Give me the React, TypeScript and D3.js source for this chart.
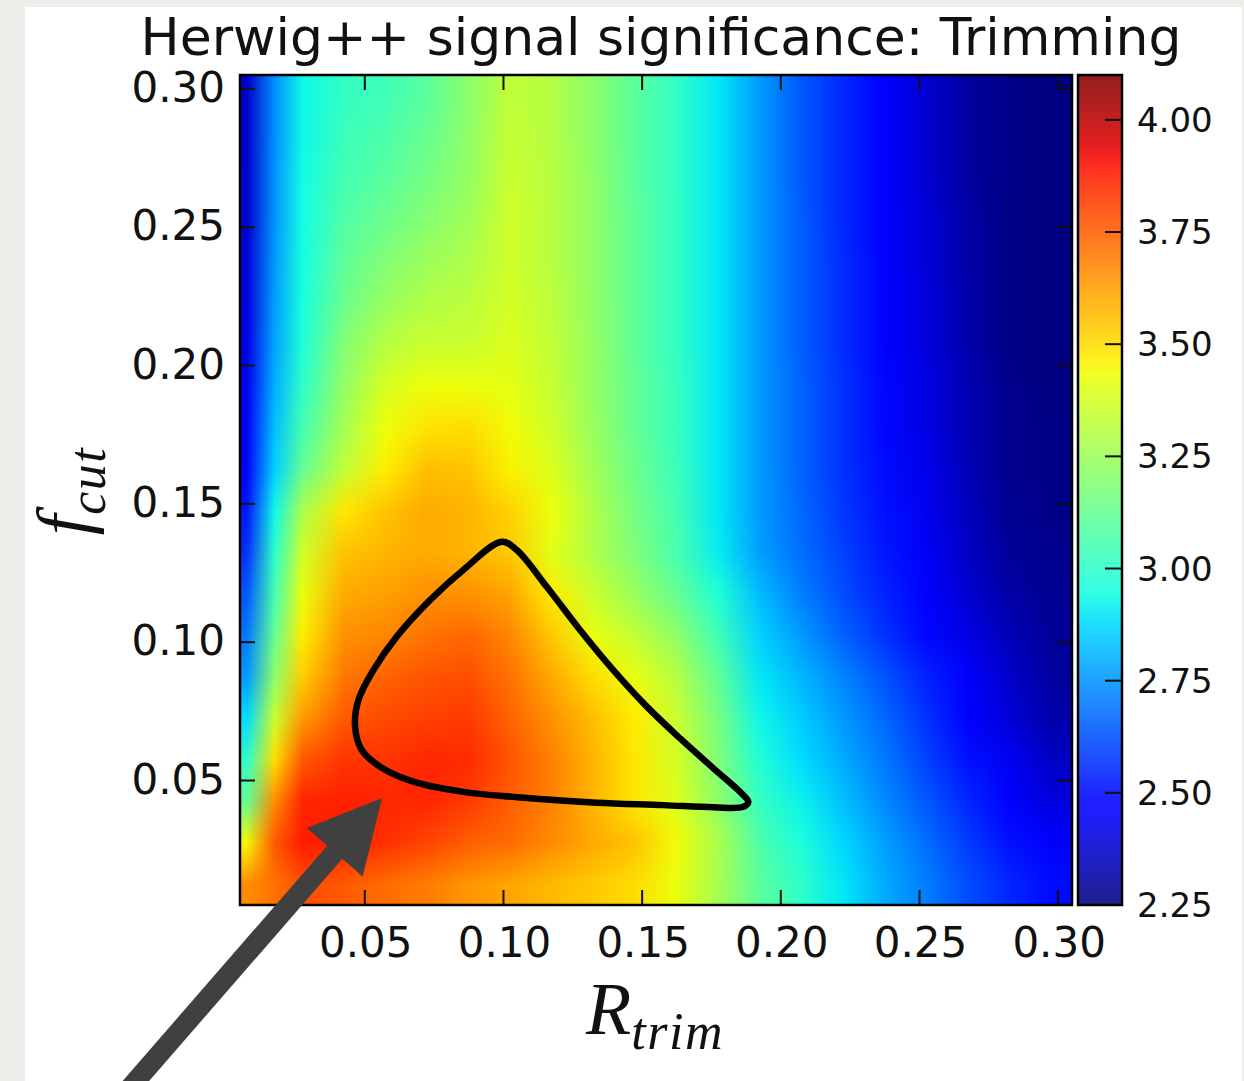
import React, { useEffect, useState } from 'react';
import * as d3 from 'd3';

// ---------------- data ----------------
const TITLE = 'Herwig++ signal significance: Trimming';
const R_TRIM_TICKS = [0.05, 0.1, 0.15, 0.2, 0.25, 0.3];
const F_CUT_TICKS = [0.05, 0.1, 0.15, 0.2, 0.25, 0.3];
const CBAR_TICKS = [2.25, 2.5, 2.75, 3.0, 3.25, 3.5, 3.75, 4.0];
const X_EXTENT = [0.005, 0.305];
const Y_EXTENT = [0.005, 0.305];
const V_MIN = 2.25;
const V_MAX = 4.1;

// grid cell centres (R_trim columns)
const R_TRIM_CENTERS = [0.0075, 0.0175, 0.0275, 0.0425, 0.0575, 0.0725, 0.0875, 0.1025, 0.1175, 0.1325, 0.1475,
  0.1625, 0.1775, 0.1925, 0.2075, 0.2225, 0.2375, 0.2525, 0.2675, 0.2825, 0.2975];
// rows listed from top (largest f_cut) to bottom
const F_CUT_CENTERS = [0.2975, 0.2825, 0.2675, 0.2525, 0.2375, 0.2225, 0.2075, 0.1925, 0.1775, 0.1625,
  0.1475, 0.1325, 0.1175, 0.1025, 0.0875, 0.0725, 0.0575, 0.0425, 0.0275, 0.0125];

// signal significance, one row per f_cut (top to bottom), one value per R_trim
const SIGNIFICANCE = [
  [2.37, 2.74, 2.93, 3.01, 3.04, 3.10, 3.21, 3.33, 3.30, 3.21, 3.10, 3.01, 2.90, 2.76, 2.64, 2.55, 2.46, 2.38, 2.30, 2.26, 2.25],
  [2.37, 2.74, 2.93, 3.03, 3.07, 3.13, 3.22, 3.34, 3.30, 3.21, 3.10, 3.01, 2.90, 2.76, 2.64, 2.55, 2.46, 2.38, 2.30, 2.26, 2.25],
  [2.38, 2.75, 2.94, 3.05, 3.10, 3.16, 3.23, 3.35, 3.31, 3.22, 3.10, 3.01, 2.90, 2.76, 2.64, 2.55, 2.47, 2.38, 2.30, 2.26, 2.25],
  [2.38, 2.75, 2.94, 3.08, 3.14, 3.20, 3.26, 3.36, 3.31, 3.22, 3.11, 3.01, 2.90, 2.76, 2.65, 2.55, 2.47, 2.39, 2.31, 2.26, 2.25],
  [2.39, 2.76, 2.95, 3.11, 3.19, 3.25, 3.29, 3.36, 3.31, 3.22, 3.11, 3.01, 2.90, 2.76, 2.65, 2.56, 2.48, 2.39, 2.31, 2.26, 2.25],
  [2.40, 2.77, 2.95, 3.14, 3.24, 3.30, 3.32, 3.37, 3.32, 3.22, 3.11, 3.01, 2.90, 2.76, 2.65, 2.56, 2.48, 2.40, 2.32, 2.26, 2.25],
  [2.41, 2.78, 2.97, 3.19, 3.31, 3.35, 3.35, 3.39, 3.33, 3.23, 3.11, 3.01, 2.90, 2.76, 2.65, 2.56, 2.48, 2.40, 2.32, 2.26, 2.25],
  [2.43, 2.80, 3.00, 3.23, 3.38, 3.43, 3.43, 3.41, 3.34, 3.23, 3.12, 3.02, 2.90, 2.76, 2.66, 2.57, 2.49, 2.41, 2.33, 2.27, 2.25],
  [2.45, 2.83, 3.05, 3.27, 3.43, 3.49, 3.50, 3.44, 3.36, 3.24, 3.12, 3.02, 2.90, 2.76, 2.66, 2.57, 2.49, 2.41, 2.33, 2.27, 2.26],
  [2.47, 2.86, 3.12, 3.33, 3.47, 3.56, 3.55, 3.46, 3.39, 3.26, 3.14, 3.03, 2.90, 2.76, 2.66, 2.57, 2.50, 2.42, 2.34, 2.27, 2.26],
  [2.52, 2.93, 3.28, 3.48, 3.55, 3.60, 3.58, 3.52, 3.43, 3.29, 3.16, 3.05, 2.90, 2.76, 2.67, 2.58, 2.51, 2.43, 2.35, 2.28, 2.26],
  [2.57, 3.00, 3.36, 3.55, 3.58, 3.60, 3.58, 3.54, 3.40, 3.29, 3.18, 3.06, 2.91, 2.77, 2.68, 2.60, 2.52, 2.44, 2.36, 2.29, 2.27],
  [2.64, 3.05, 3.42, 3.60, 3.62, 3.65, 3.65, 3.61, 3.47, 3.35, 3.24, 3.12, 2.97, 2.82, 2.71, 2.62, 2.54, 2.46, 2.38, 2.31, 2.28],
  [2.70, 3.13, 3.47, 3.65, 3.67, 3.71, 3.73, 3.67, 3.54, 3.42, 3.33, 3.22, 3.04, 2.86, 2.76, 2.66, 2.57, 2.49, 2.41, 2.34, 2.29],
  [2.76, 3.21, 3.53, 3.70, 3.74, 3.77, 3.78, 3.71, 3.60, 3.50, 3.42, 3.30, 3.11, 2.90, 2.81, 2.72, 2.63, 2.54, 2.45, 2.37, 2.30],
  [2.88, 3.35, 3.63, 3.76, 3.79, 3.81, 3.82, 3.74, 3.65, 3.56, 3.47, 3.35, 3.16, 2.93, 2.85, 2.76, 2.67, 2.57, 2.47, 2.39, 2.32],
  [3.00, 3.50, 3.76, 3.83, 3.83, 3.86, 3.85, 3.77, 3.68, 3.58, 3.48, 3.37, 3.18, 2.97, 2.88, 2.79, 2.70, 2.60, 2.51, 2.43, 2.36],
  [3.12, 3.66, 3.86, 3.87, 3.86, 3.86, 3.82, 3.75, 3.68, 3.58, 3.48, 3.39, 3.22, 3.02, 2.92, 2.83, 2.73, 2.64, 2.55, 2.47, 2.40],
  [3.45, 3.76, 3.88, 3.87, 3.84, 3.80, 3.75, 3.72, 3.66, 3.60, 3.55, 3.44, 3.28, 3.07, 2.96, 2.87, 2.77, 2.68, 2.59, 2.51, 2.45],
  [3.66, 3.71, 3.78, 3.76, 3.72, 3.69, 3.64, 3.61, 3.57, 3.54, 3.50, 3.42, 3.27, 3.10, 3.00, 2.90, 2.79, 2.71, 2.62, 2.55, 2.50],
];

// black contour line [R_trim, f_cut]
const CONTOUR: [number, number][] = [
  [0.0994, 0.1363], [0.0855, 0.1261], [0.0735, 0.1152], [0.0615, 0.1020], [0.0531, 0.0899],
  [0.0477, 0.0791], [0.0465, 0.0694], [0.0489, 0.0610], [0.0555, 0.0550], [0.0675, 0.0496],
  [0.0855, 0.0459], [0.1096, 0.0436], [0.1336, 0.0420], [0.1577, 0.0411], [0.1757, 0.0403],
  [0.1865, 0.0405], [0.1883, 0.0423], [0.1853, 0.0459], [0.1757, 0.0544], [0.1637, 0.0652],
  [0.1517, 0.0767], [0.1396, 0.0899], [0.1276, 0.1044], [0.1156, 0.1200], [0.1048, 0.1333],
];

// annotation arrow (tail, tip) in data coordinates
const ARROW_TAIL: [number, number] = [-0.0419, -0.0694];
const ARROW_TIP: [number, number] = [0.0562, 0.0437];

// ---------------- layout ----------------
const WIDTH = 1244;
const HEIGHT = 1081;
const PL = 240, PR = 1072, PT = 75, PB = 905;
const CB_L = 1078, CB_R = 1122;

const x = d3.scaleLinear().domain(X_EXTENT).range([PL, PR]);
const y = d3.scaleLinear().domain(Y_EXTENT).range([PB, PT]);
const cy = d3.scaleLinear().domain([V_MIN, V_MAX]).range([PB, PT]);

// matplotlib "jet"
const jetR = d3.scaleLinear().domain([0, 0.35, 0.66, 0.89, 1]).range([0, 0, 1, 1, 0.5]).clamp(true);
const jetG = d3.scaleLinear().domain([0, 0.125, 0.375, 0.64, 0.91, 1]).range([0, 0, 1, 1, 0, 0]).clamp(true);
const jetB = d3.scaleLinear().domain([0, 0.11, 0.34, 0.65, 1]).range([0.5, 1, 1, 0, 0]).clamp(true);
const norm = d3.scaleLinear().domain([V_MIN, V_MAX]).range([0, 1]).clamp(true);
function jetRGB(v: number): [number, number, number] {
  const t = norm(v);
  return [jetR(t) * 255, jetG(t) * 255, jetB(t) * 255];
}

const FONT = '"DejaVu Sans", Verdana, sans-serif';
const MATH = '"Liberation Serif", "DejaVu Serif", serif';

export default function App() {
  const [href, setHref] = useState('');

  useEffect(() => {
    const W = PR - PL;
    const H = PB - PT;
    const canvas = document.createElement('canvas');
    canvas.width = W;
    canvas.height = H;
    const ctx = canvas.getContext('2d');
    if (!ctx) return;
    const img = ctx.createImageData(W, H);
    const NX = R_TRIM_CENTERS.length;
    const NY = F_CUT_CENTERS.length;
    const colIdx = d3.scaleLinear().domain(R_TRIM_CENTERS).range(d3.range(NX)).clamp(true);
    const rowIdx = d3.scaleLinear().domain(F_CUT_CENTERS).range(d3.range(NY)).clamp(true);
    const rgb = SIGNIFICANCE.map((row) => row.map((v) => jetRGB(v)));
    const cols = d3.range(W).map((px) => {
      const g = colIdx(x.invert(PL + px + 0.5));
      const i0 = Math.min(Math.floor(g), NX - 1);
      const i1 = Math.min(i0 + 1, NX - 1);
      return [i0, i1, g - i0];
    });
    for (let py = 0; py < H; py++) {
      const g = rowIdx(y.invert(PT + py + 0.5));
      const j0 = Math.min(Math.floor(g), NY - 1);
      const j1 = Math.min(j0 + 1, NY - 1);
      const ty = g - j0;
      for (let px = 0; px < W; px++) {
        const [i0, i1, tx] = cols[px];
        const a = rgb[j0][i0], b = rgb[j0][i1], c = rgb[j1][i0], d = rgb[j1][i1];
        const k = (py * W + px) * 4;
        for (let ch = 0; ch < 3; ch++) {
          const top = a[ch] + (b[ch] - a[ch]) * tx;
          const bot = c[ch] + (d[ch] - c[ch]) * tx;
          img.data[k + ch] = Math.round(top + (bot - top) * ty);
        }
        img.data[k + 3] = 255;
      }
    }
    ctx.putImageData(img, 0, 0);
    setHref(canvas.toDataURL());
  }, []);

  const contourPath = d3
    .line<[number, number]>()
    .x((d) => x(d[0]))
    .y((d) => y(d[1]))
    .curve(d3.curveCatmullRomClosed.alpha(0.5))(CONTOUR) || '';

  // arrow polygon
  const tail = [x(ARROW_TAIL[0]), y(ARROW_TAIL[1])];
  const tip = [x(ARROW_TIP[0]), y(ARROW_TIP[1])];
  const len = Math.hypot(tip[0] - tail[0], tip[1] - tail[1]);
  const ux = (tip[0] - tail[0]) / len, uy = (tip[1] - tail[1]) / len;
  const nx = -uy, ny = ux;
  const headLen = 72, headHalf = 37, shaftHalf = 10;
  const bx = tip[0] - ux * headLen, by = tip[1] - uy * headLen;
  const arrowPts = [
    [tail[0] + nx * shaftHalf, tail[1] + ny * shaftHalf],
    [bx + nx * shaftHalf, by + ny * shaftHalf],
    [bx + nx * headHalf, by + ny * headHalf],
    [tip[0], tip[1]],
    [bx - nx * headHalf, by - ny * headHalf],
    [bx - nx * shaftHalf, by - ny * shaftHalf],
    [tail[0] - nx * shaftHalf, tail[1] - ny * shaftHalf],
  ];

  const gradStops = d3.range(0, 1.0001, 0.01);
  const tickLen = 15;

  return (
    <svg
      width={WIDTH}
      height={HEIGHT}
      style={{ position: 'absolute', left: 0, top: 0, display: 'block' }}
      xmlns="http://www.w3.org/2000/svg"
    >
      <defs>
        <linearGradient id="cbar" x1="0" y1="1" x2="0" y2="0">
          {gradStops.map((t) => {
            const [r, g, b] = jetRGB(V_MIN + t * (V_MAX - V_MIN));
            return <stop key={t} offset={t} stopColor={`rgb(${r},${g},${b})`} />;
          })}
        </linearGradient>
        <clipPath id="plotclip">
          <rect x={PL} y={PT} width={PR - PL} height={PB - PT} />
        </clipPath>
      </defs>

      <rect x={0} y={0} width={WIDTH} height={HEIGHT} fill="#efede9" />
      <rect x={25} y={7} width={1217} height={HEIGHT - 7} fill="#ffffff" />

      {/* heatmap */}
      {href && (
        <image
          href={href}
          x={PL}
          y={PT}
          width={PR - PL}
          height={PB - PT}
          preserveAspectRatio="none"
        />
      )}

      {/* contour */}
      <path d={contourPath} fill="none" stroke="#000" strokeWidth={6.5} strokeLinejoin="round" clipPath="url(#plotclip)" />

      {/* ticks */}
      <g stroke="#111" strokeWidth={2}>
        {R_TRIM_TICKS.map((t) => (
          <g key={'xt' + t}>
            <line x1={x(t)} x2={x(t)} y1={PB} y2={PB - tickLen} />
            <line x1={x(t)} x2={x(t)} y1={PT} y2={PT + tickLen} />
          </g>
        ))}
        {F_CUT_TICKS.map((t) => (
          <g key={'yt' + t}>
            <line x1={PL} x2={PL + tickLen} y1={y(t)} y2={y(t)} />
            <line x1={PR} x2={PR - tickLen} y1={y(t)} y2={y(t)} />
          </g>
        ))}
      </g>
      <rect x={PL} y={PT} width={PR - PL} height={PB - PT} fill="none" stroke="#000" strokeWidth={2.5} />

      {/* tick labels */}
      <g fontFamily={FONT} fontSize={42} fill="#111">
        {R_TRIM_TICKS.map((t) => (
          <text key={'xl' + t} x={x(t) + 1} y={957} textAnchor="middle">
            {t.toFixed(2)}
          </text>
        ))}
        {F_CUT_TICKS.map((t) => (
          <text key={'yl' + t} x={225} y={y(t) + 13} textAnchor="end">
            {t.toFixed(2)}
          </text>
        ))}
      </g>

      {/* title */}
      <text x={661} y={55} textAnchor="middle" fontFamily={FONT} fontSize={52} fill="#111">
        {TITLE}
      </text>

      {/* axis labels */}
      <text x={655} y={1034} textAnchor="middle" fontFamily={MATH} fontStyle="italic" fill="#111">
        <tspan fontSize={74}>R</tspan>
        <tspan fontSize={52} dy={15} letterSpacing={1.5}>trim</tspan>
      </text>
      <text transform="translate(88,491) rotate(-90)" textAnchor="middle" fontFamily={MATH} fontStyle="italic" fill="#111">
        <tspan fontSize={74}>f</tspan>
        <tspan fontSize={52} dy={17} letterSpacing={1.5}>cut</tspan>
      </text>

      {/* colorbar */}
      <rect x={CB_L} y={PT} width={CB_R - CB_L} height={PB - PT} fill="url(#cbar)" opacity={0.88} />
      <g stroke="#111" strokeWidth={2}>
        {CBAR_TICKS.map((t) => (
          <line key={'ct' + t} x1={CB_R} x2={CB_R - 17} y1={cy(t)} y2={cy(t)} />
        ))}
      </g>
      <rect x={CB_L} y={PT} width={CB_R - CB_L} height={PB - PT} fill="none" stroke="#000" strokeWidth={2.5} />
      <g fontFamily={FONT} fontSize={34} fill="#111">
        {CBAR_TICKS.map((t) => (
          <text key={'cl' + t} x={1137} y={cy(t) + 12}>
            {t.toFixed(2)}
          </text>
        ))}
      </g>

      {/* arrow */}
      <polygon points={arrowPts.map((p) => p.join(',')).join(' ')} fill="#404040" />
    </svg>
  );
}
